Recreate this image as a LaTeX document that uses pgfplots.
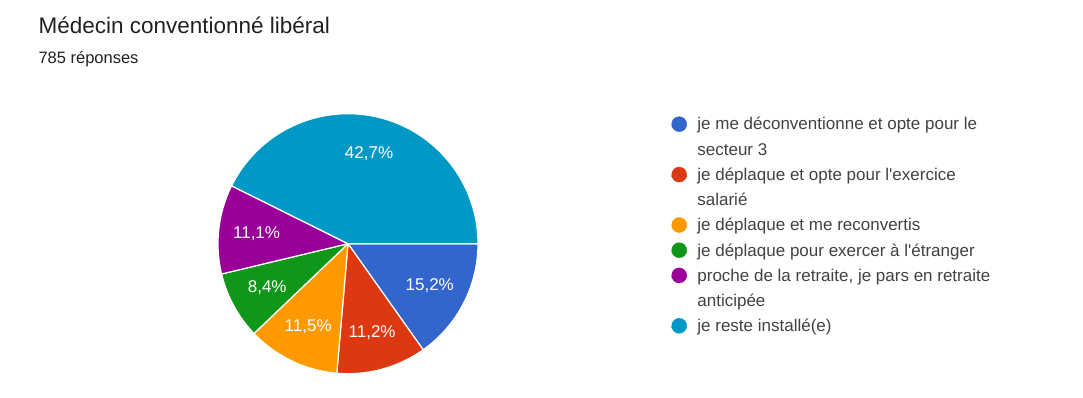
\documentclass[border=0pt]{standalone}
\usepackage{fontspec}
\setmainfont{Liberation Sans}
\usepackage{pgfplots}
\pgfplotsset{compat=1.18}
\definecolor{cBlue}{HTML}{3366CC}
\definecolor{cRed}{HTML}{DC3912}
\definecolor{cOrange}{HTML}{FF9900}
\definecolor{cGreen}{HTML}{109618}
\definecolor{cPurple}{HTML}{990099}
\definecolor{cCyan}{HTML}{0099C6}
\definecolor{txt}{HTML}{202124}
\newcommand\fs[1]{\fontsize{#1bp}{#1bp}\selectfont}
\def\k{3.5964}% 360 / 100.1
\def\cx{348}\def\cy{153.3}\def\R{130}\def\Rl{92}
% \slice{cumulative start %}{share %}{colour}
\newcommand\slice[3]{%
  \addplot[forget plot, fill=#3, draw=white, line width=1.2pt, line join=round,
    domain=-\k*(#1+#2):-\k*(#1), samples=90]
    ({\cx+\R*cos(x)},{\cy+\R*sin(x)}) -- (axis cs:\cx,\cy) -- cycle;
  \node[text=white, font=\fs{17}] at (axis cs:{\cx+\Rl*cos(-\k*(#1+#2/2))},{\cy+\Rl*sin(-\k*(#1+#2/2))})
    {\pgfmathprintnumber[fixed, fixed zerofill, precision=1, use comma, assume math mode=true]{#2}\%};
}
\pgfplotsset{dot/.style={legend image code/.code={\path (0bp,0bp) rectangle (15bp,0bp);\fill[#1,overlay] (7.5bp,1.8bp) circle (7.5bp);}}}
\begin{document}
\begin{tikzpicture}
\begin{axis}[
  width=1083bp, height=397bp, scale only axis,
  xmin=0, xmax=1083, ymin=0, ymax=397,
  ticks=none, axis line style={draw=none}, clip=false,
  legend cell align=left,
  legend style={at={(axis description cs:0.62004,0.70277)}, anchor=north west,
    draw=none, fill=none, inner sep=0pt, outer sep=0pt, row sep=9.2bp,
    font=\fs{17}, text=txt!85,
    nodes={inner sep=0pt, text height=12bp, text depth=4bp},
    /tikz/every odd column/.append style={column sep=10.5bp}},
]
\slice{0}{15.2}{cBlue}
\slice{15.2}{11.2}{cRed}
\slice{26.4}{11.5}{cOrange}
\slice{37.9}{8.4}{cGreen}
\slice{46.3}{11.1}{cPurple}
\slice{57.4}{42.7}{cCyan}
\addlegendimage{dot=cBlue}\addlegendentry{je me déconventionne et opte pour le}
\addlegendimage{empty legend}\addlegendentry{secteur 3}
\addlegendimage{dot=cRed}\addlegendentry{je déplaque et opte pour l\textquotesingle exercice}
\addlegendimage{empty legend}\addlegendentry{salarié}
\addlegendimage{dot=cOrange}\addlegendentry{je déplaque et me reconvertis}
\addlegendimage{dot=cGreen}\addlegendentry{je déplaque pour exercer à l\textquotesingle étranger}
\addlegendimage{dot=cPurple}\addlegendentry{proche de la retraite, je pars en retraite}
\addlegendimage{empty legend}\addlegendentry{anticipée}
\addlegendimage{dot=cCyan}\addlegendentry{je reste installé(e)}
\node[anchor=base west, font=\fs{22.5}, text=txt] at (axis cs:35,363.5) {Médecin conventionné libéral};
\node[anchor=base west, font=\fs{16.5}, text=txt] at (axis cs:35,333) {785 réponses};
\end{axis}
\end{tikzpicture}
\end{document}
